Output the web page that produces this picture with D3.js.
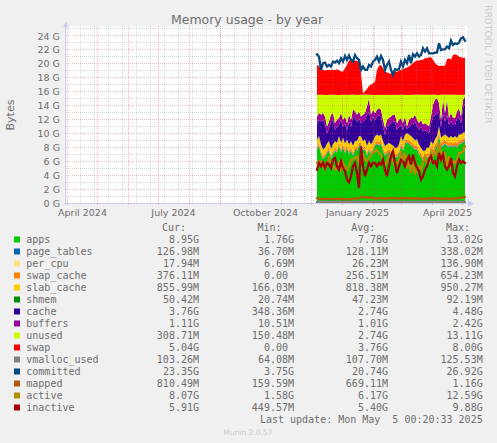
<!DOCTYPE html>
<html>
<head>
<meta charset="utf-8">
<script src="https://cdnjs.cloudflare.com/ajax/libs/d3/7.8.5/d3.min.js"></script>
<style>
  html, body { margin: 0; padding: 0; background: #f0f0f0; }
  svg { display: block; }
  text { font-family: "DejaVu Sans", sans-serif; fill: #6e6e6e; }
  .mono { font-family: "DejaVu Sans Mono", monospace; font-size: 10px; fill: #6e6e6e; }
</style>
</head>
<body>
<svg id="chart"></svg>
<script>
// Values in GiB, one sample every two days from 7 Dec 2024
const apps = [7.62,8.1,6.9,6.19,6.43,7.05,7.38,6.29,6.9,7.38,7.14,8.1,7.14,7.86,7.05,7.62,6.9,7.38,6.67,7.38,7.38,8.1,8.1,7.38,7.62,6.67,7.38,6.9,7.38,8.1,8.33,8.1,8.33,7.38,6.67,6.9,7.14,6.9,6.76,6.43,6.43,6.9,8.1,7.38,8.33,8.57,8.33,8.1,7.86,7.52,7.62,6.9,6.43,5.95,5.95,6.43,6.43,7.38,6.9,7.62,8.1,9.52,7.86,8.1,8.33,8.1,7.86,8.1,7.86,8.1,7.86,8.33,8.33,8.57,8.67];
const page_tables = [.11,.12,.12,.13,.12,.11,.12,.13,.12,.12,.11,.12,.13,.12,.12,.11,.12,.13,.14,.13,.12,.12,.11,.12,.13,.14,.13,.12,.12,.11,.12,.13,.12,.12,.11,.12,.12,.13,.12,.12,.11,.12,.13,.12,.12,.11,.12,.13,.12,.12,.13,.12,.12,.13,.14,.13,.12,.12,.13,.14,.13,.12,.13,.14,.13,.12,.12,.13,.12,.13,.12,.12,.13,.13,.13];
const per_cpu = [.02,.02,.03,.03,.02,.02,.02,.03,.03,.02,.02,.02,.03,.02,.02,.02,.03,.02,.03,.03,.02,.02,.02,.02,.03,.03,.03,.02,.02,.02,.02,.03,.02,.02,.02,.03,.02,.03,.02,.02,.02,.03,.02,.02,.02,.02,.02,.03,.02,.02,.03,.02,.02,.03,.03,.02,.02,.02,.03,.03,.02,.02,.03,.03,.02,.02,.02,.03,.02,.02,.02,.02,.02,.02,.02];
const swap_cache = [.3,.3,.32,.32,.34,.34,.36,.36,.34,.36,.34,.38,.36,.4,.36,.34,.36,.38,.34,.36,.34,.36,.36,.34,.3,.3,.3,.32,.32,.34,.36,.38,.4,.36,.34,.36,.36,.34,.36,.34,.34,.36,.4,.36,.38,.4,.42,.44,.42,.4,.44,.46,.44,.42,.44,.48,.46,.5,.48,.52,.5,.46,.48,.5,.48,.46,.48,.44,.46,.48,.44,.46,.42,.44,.38];
const slab_cache = [.94,.94,.92,.92,.9,.9,.88,.88,.9,.88,.9,.86,.88,.84,.88,.9,.88,.86,.9,.88,.9,.88,.88,.9,.94,.94,.94,.92,.92,.9,.88,.86,.84,.88,.9,.88,.88,.9,.88,.9,.9,.88,.84,.88,.86,.84,.82,.8,.82,.84,.8,.78,.8,.82,.8,.76,.78,.74,.76,.72,.74,.78,.76,.74,.76,.78,.76,.8,.78,.76,.8,.78,.82,.8,.86];
const shmem = [.05,.05,.06,.05,.04,.05,.05,.05,.06,.05,.05,.04,.05,.05,.05,.05,.06,.05,.05,.05,.04,.05,.05,.05,.06,.05,.05,.05,.05,.04,.05,.05,.05,.06,.05,.05,.05,.04,.05,.05,.05,.05,.06,.05,.05,.04,.05,.05,.05,.05,.06,.05,.05,.05,.04,.05,.05,.05,.05,.06,.05,.05,.04,.05,.05,.05,.05,.06,.05,.05,.05,.05,.05,.05,.05];
const cache = [2.28,2.28,3.24,4.19,3.47,1.43,1.81,3.85,3.47,1.57,2.28,1.57,3.24,1.57,2.85,1.33,3.24,2.05,4.19,3.24,2.76,2.52,1.81,2.76,2.76,4.4,4.14,3.24,3.47,2.28,2.52,3.0,2.52,2.05,1.57,2.52,2.52,3.0,3.38,3.71,2.52,2.52,1.57,1.57,1.57,.5,1.09,1.57,1.81,2.62,1.81,2.05,3.0,2.76,3.0,2.28,2.05,2.52,3.86,3.46,3.2,1.68,1.57,3.2,1.85,3.0,1.81,2.1,1.81,1.57,2.76,2.46,1.57,3.5,4.0];
const buffers = [1,1,1,1,1,1,1,1,1,1,1,1,1,1,1,1,1,1,1,1,1,1,1,1,1,1.26,2,1,1,1,1,1,1,1,1,1,1,1,1,1,1,1,1,1,1,.4,1,1,1,1,1,1,1,1,1,1,1,1,1.8,2.2,2.2,1.6,1,2,1.2,2.2,1,1.2,1,1,1,1.3,1,1.2,1.1];
const unused = [3.1,2.62,2.86,2.62,3.1,4.52,3.81,2.86,2.62,4.05,3.57,3.33,2.62,3.57,3.1,4.05,2.86,3.57,2.14,2.38,2.86,2.38,3.1,2.86,2.62,1.67,.48,2.86,2.14,2.62,2.14,1.9,2.14,3.57,4.76,3.57,3.33,3.1,2.86,2.86,4.05,3.57,3.33,4.05,3.1,4.52,3.57,3.33,3.33,2.86,3.57,4.05,3.57,4.29,4.05,4.29,4.52,3.1,1.43,.71,.48,1.19,3.57,.71,2.62,.71,3.33,2.62,3.33,3.33,2.38,1.9,3.1,.71,.24];
const swap = [4.29,4.14,3.57,3.57,3.48,3.57,3.57,3.57,3.57,3.57,3.67,3.57,3.33,3.33,3.81,4.29,4.9,4.9,4.9,4.9,4.86,4.76,3.1,.14,.48,.81,1.29,1.43,1.67,1.9,3.57,4.14,4.29,3.81,3.33,3.19,3.1,3.0,3.1,3.33,3.33,3.48,3.57,3.67,3.81,3.95,4.05,4.29,4.52,4.76,4.9,4.9,5.0,5.0,5.24,5.24,5.38,5.38,5.0,4.52,4.29,4.14,4.14,4.14,4.14,5.1,5.24,5.0,5.71,5.81,5.71,5.48,5.38,5.33,5.24];
const vmalloc_used = [.1,.1,.11,.1,.11,.1,.1,.11,.1,.1,.11,.11,.1,.1,.11,.1,.11,.1,.1,.11,.1,.11,.1,.11,.12,.11,.1,.11,.1,.11,.1,.1,.11,.1,.11,.1,.1,.11,.11,.1,.1,.11,.1,.11,.1,.1,.11,.1,.11,.1,.1,.11,.11,.1,.1,.11,.1,.11,.1,.1,.11,.1,.11,.1,.1,.11,.1,.11,.1,.1,.11,.1,.1,.1,.1];
const committed = [21.24,20.9,19.0,19.95,20.05,19.48,19.71,19.48,20.19,20.05,20.33,19.95,20.67,20.19,21.0,20.43,21.05,20.43,20.19,21.14,20.67,20.43,19.0,19.48,19.0,19.0,19.71,19.48,20.19,20.43,20.9,20.19,21.0,20.43,19.0,19.71,20.19,19.0,18.29,19.1,19.0,19.1,20.19,19.48,20.43,19.95,21.14,19.95,21.24,20.9,21.38,20.9,21.14,22.1,21.62,22.1,21.38,21.38,21.38,21.48,21.48,22.81,21.86,21.95,21.95,22.33,22.1,23.19,22.57,22.81,22.71,22.9,23.52,23.67,23.19];
const mapped = [.6,.55,.5,.5,.52,.55,.5,.5,.48,.5,.52,.55,.5,.5,.48,.45,.48,.5,.55,.6,.55,.6,.75,.85,.7,.75,.7,.72,.65,.6,.55,.6,.65,.6,.55,.55,.6,.65,.6,.62,.6,.55,.6,.65,.6,.65,.6,.55,.6,.55,.6,.55,.5,.52,.55,.6,.55,.6,.62,.6,.55,.6,.55,.5,.55,.6,.55,.5,.55,.55,.6,.65,.7,.78,.8];
const active = [5.67,5.9,5.9,5.19,4.71,5.67,6.38,5.67,5.19,4.71,4.95,5.67,4.71,5.67,4.95,4.71,5.19,6.14,6.14,6.38,6.62,5.67,6.38,6.86,6.14,5.9,6.38,6.86,7.1,7.33,7.57,7.1,6.86,5.9,5.19,5.9,6.86,6.14,6.14,5.19,5.67,5.9,7.1,6.14,7.1,5.19,5.67,4.24,5.67,4.0,4.95,5.19,4.71,5.67,6.62,5.67,5.67,7.1,6.62,7.33,6.86,8.52,7.1,6.86,7.1,5.19,6.62,5.19,5.9,5.67,6.14,7.1,7.1,7.33,8.05];
const inactive = [4.71,5.67,5.19,5.67,4.95,5.67,5.43,4.95,6.14,6.38,5.19,4.71,5.9,4.95,4.48,3.29,2.9,3.76,5.19,5.67,4.24,2.1,8.05,5.19,3.76,4.71,5.67,5.19,5.67,5.67,5.19,5.67,5.43,6.14,4.71,3.76,5.19,6.62,7.33,5.67,4.24,5.19,6.14,5.9,5.19,6.14,6.62,5.43,6.86,5.67,4.95,4.48,3.29,3.76,4.71,5.19,6.14,6.62,5.67,5.9,5.19,7.1,6.14,6.86,5.19,4.71,5.19,6.38,4.24,3.76,5.19,6.14,5.67,5.9,5.67];

const stackNames = ["apps", "page_tables", "per_cpu", "swap_cache", "slab_cache", "shmem", "cache", "buffers", "unused", "swap"];
const stackValues = [apps, page_tables, per_cpu, swap_cache, slab_cache, shmem, cache, buffers, unused, swap];
const lineNames = ["vmalloc_used", "committed", "mapped", "active", "inactive"];
const lineValues = [vmalloc_used, committed, mapped, active, inactive];

const colors = {
  apps: "#00CC00", page_tables: "#0066B3", per_cpu: "#FFE17F", swap_cache: "#FF8000",
  slab_cache: "#FFCC00", shmem: "#008F00", cache: "#330099", buffers: "#990099",
  unused: "#CCFF00", swap: "#FF0000", vmalloc_used: "#808080", committed: "#00487D",
  mapped: "#B35A00", active: "#B38F00", inactive: "#A80000"
};

// Legend table, same order as the picture
const legendNames = ["apps", "page_tables", "per_cpu", "swap_cache", "slab_cache", "shmem", "cache", "buffers", "unused", "swap", "vmalloc_used", "committed", "mapped", "active", "inactive"];
const curLabels = ["8.95G", "126.98M", "17.94M", "376.11M", "855.99M", "50.42M", "3.76G", "1.11G", "308.71M", "5.04G", "103.26M", "23.35G", "810.49M", "8.07G", "5.91G"];
const minLabels = ["1.76G", "36.70M", "6.69M", "0.00\u00a0", "166.03M", "20.74M", "348.36M", "10.51M", "150.48M", "0.00\u00a0", "64.08M", "3.75G", "159.59M", "1.58G", "449.57M"];
const avgLabels = ["7.78G", "128.11M", "26.23M", "256.51M", "818.38M", "47.23M", "2.74G", "1.01G", "2.74G", "3.76G", "107.70M", "20.74G", "669.11M", "6.17G", "5.40G"];
const maxLabels = ["13.02G", "338.02M", "136.90M", "654.23M", "950.27M", "92.19M", "4.48G", "2.42G", "13.11G", "8.00G", "125.53M", "26.92G", "1.16G", "12.59G", "9.88G"];

const xTickDates = ["2024-04-16", "2024-07-16", "2024-10-16", "2025-01-16", "2025-04-16"].map((d) => new Date(d));
const yTicks = [0, 2, 4, 6, 8, 10, 12, 14, 16, 18, 20, 22, 24];

const width = 497;
const height = 443;
const plotLeft = 66;
const plotRight = 466;
const plotTop = 26;
const plotBottom = 203;

const svg = d3.select("#chart").attr("width", width).attr("height", height);

const xScale = d3
  .scaleUtc()
  .domain([new Date("2024-03-31"), new Date("2025-05-05")])
  .range([plotLeft, plotRight]);

const yScale = d3
  .scaleLinear()
  .domain([0, 24])
  .range([plotBottom - 0.5, 35]);

const dates = d3.utcDay.range(new Date("2024-12-07"), new Date("2025-05-05"), 2);

// Plot background
svg.append("rect")
  .attr("x", plotLeft).attr("y", plotTop)
  .attr("width", plotRight - plotLeft + 1).attr("height", plotBottom - plotTop)
  .attr("fill", "#fff");

// Stacked areas
const rows = dates.map((d, i) => {
  const row = { date: d };
  stackNames.forEach((name, j) => (row[name] = stackValues[j][i]));
  return row;
});
const series = d3.stack().keys(stackNames)(rows);
const area = d3.area()
  .x((d) => xScale(d.data.date))
  .y0((d) => yScale(d[0]))
  .y1((d) => yScale(d[1]));

svg.selectAll("path.band")
  .data(series)
  .enter()
  .append("path")
  .attr("class", "band")
  .attr("d", area)
  .attr("fill", (d) => colors[d.key]);

// Lines on top of the stack
const line = d3.line()
  .x((d, i) => xScale(dates[i]))
  .y((d) => yScale(d));

svg.selectAll("path.ln")
  .data(lineNames)
  .enter()
  .append("path")
  .attr("class", "ln")
  .attr("d", (d, i) => line(lineValues[i]))
  .attr("fill", "none")
  .attr("stroke", (d) => colors[d])
  .attr("stroke-width", 2.3)
  .attr("stroke-linecap", "square");

// Grid goes over the data, faintly, like rrdtool does
const greyDot = "rgba(120,120,120,.28)";
const redDot = "rgba(220,60,60,.34)";
const grid = svg.append("g").attr("shape-rendering", "crispEdges").attr("stroke-dasharray", "1,1");
const minorY = d3.range(1, 26);
grid.selectAll("line.hm").data(minorY).enter().append("line")
  .attr("x1", plotLeft).attr("x2", plotRight)
  .attr("y1", (d) => Math.round(yScale(d)) + 0.5).attr("y2", (d) => Math.round(yScale(d)) + 0.5)
  .attr("stroke", (d) => (d % 2 ? greyDot : redDot));

const weeks = d3.utcDay.range(new Date("2024-04-14"), new Date("2025-05-05"), 14);
grid.selectAll("line.vw").data(weeks).enter().append("line")
  .attr("y1", plotTop).attr("y2", plotBottom + 1)
  .attr("x1", (d) => Math.round(xScale(d)) + 0.5).attr("x2", (d) => Math.round(xScale(d)) + 0.5)
  .attr("stroke", greyDot);

const months = d3.utcMonth.range(new Date("2024-04-01"), new Date("2025-05-05"));
grid.selectAll("line.vm").data(months).enter().append("line")
  .attr("y1", plotTop).attr("y2", plotBottom + 3)
  .attr("x1", (d) => Math.round(xScale(d)) + 0.5).attr("x2", (d) => Math.round(xScale(d)) + 0.5)
  .attr("stroke", redDot);

// Axes
const yAxis = d3.axisLeft(yScale).tickValues(yTicks).tickSize(0).tickPadding(6).tickFormat((d) => d + " G");
const xAxis = d3.axisBottom(xScale).tickValues(xTickDates).tickSize(0).tickPadding(6).tickFormat(d3.utcFormat("%B %Y"));

const gy = svg.append("g").attr("transform", "translate(" + plotLeft + ",0)").call(yAxis);
const gx = svg.append("g").attr("transform", "translate(0," + plotBottom + ")").call(xAxis);
[gy, gx].forEach((g) => {
  g.select(".domain").remove();
  g.selectAll("text").attr("font-size", 9.5).attr("font-family", "DejaVu Sans").style("fill", "#6e6e6e");
});
gy.selectAll("text").attr("dy", "0.42em");

// Axis lines with their little arrows
svg.append("line").attr("x1", plotLeft - 0.5).attr("x2", plotLeft - 0.5).attr("y1", 24).attr("y2", plotBottom + 1).attr("stroke", "#ccccf0");
svg.append("line").attr("x1", plotLeft - 2).attr("x2", 470).attr("y1", plotBottom + 0.5).attr("y2", plotBottom + 0.5).attr("stroke", "#ccccf0");
svg.append("path").attr("d", "M63,27 L66,21.5 L69,27 Z").attr("fill", "#ccccf0");
svg.append("path").attr("d", "M468,200 L474,203.5 L468,207 Z").attr("fill", "#ccccf0");

// Titles
svg.append("text").attr("x", 247).attr("y", 24).attr("text-anchor", "middle")
  .attr("font-size", 12.5).text("Memory usage - by year");
svg.append("text").attr("transform", "translate(14,115) rotate(-90)").attr("text-anchor", "middle")
  .attr("font-size", 11).text("Bytes");
svg.append("text").attr("transform", "translate(484.5,5) rotate(90)")
  .attr("font-size", 9.2).style("fill", "#ccc").text("RRDTOOL / TOBI OETIKER");

// Legend table
const rowY = (i) => 243 + i * 12;
const headers = [["Cur:", 186], ["Min:", 281.6], ["Avg:", 375.3], ["Max:", 470]];
svg.selectAll("text.hd").data(headers).enter().append("text")
  .attr("class", "mono hd").attr("x", (d) => d[1]).attr("y", 231)
  .attr("text-anchor", "end").text((d) => d[0]);

const legend = svg.selectAll("g.row").data(legendNames).enter().append("g")
  .attr("class", "row").attr("transform", (d, i) => "translate(0," + rowY(i) + ")");
legend.append("rect").attr("x", 14).attr("y", -6.5).attr("width", 6).attr("height", 6)
  .attr("fill", (d) => colors[d]);
legend.append("text").attr("class", "mono").attr("x", 26.3).text((d) => d);

[[curLabels, 199], [minLabels, 294], [avgLabels, 388], [maxLabels, 482.7]].forEach(([labels, x]) => {
  legend.append("text").attr("class", "mono").attr("x", x).attr("text-anchor", "end")
    .text((d, i) => labels[i]);
});

svg.append("text").attr("class", "mono").attr("x", 482.7).attr("y", 423).attr("text-anchor", "end")
  .style("white-space", "pre").text("Last update: Mon May  5 00:20:33 2025");
svg.append("text").attr("x", 248).attr("y", 435).attr("text-anchor", "middle")
  .attr("font-size", 7.5).style("fill", "#ccc").text("Munin 2.0.57");
</script>
</body>
</html>
